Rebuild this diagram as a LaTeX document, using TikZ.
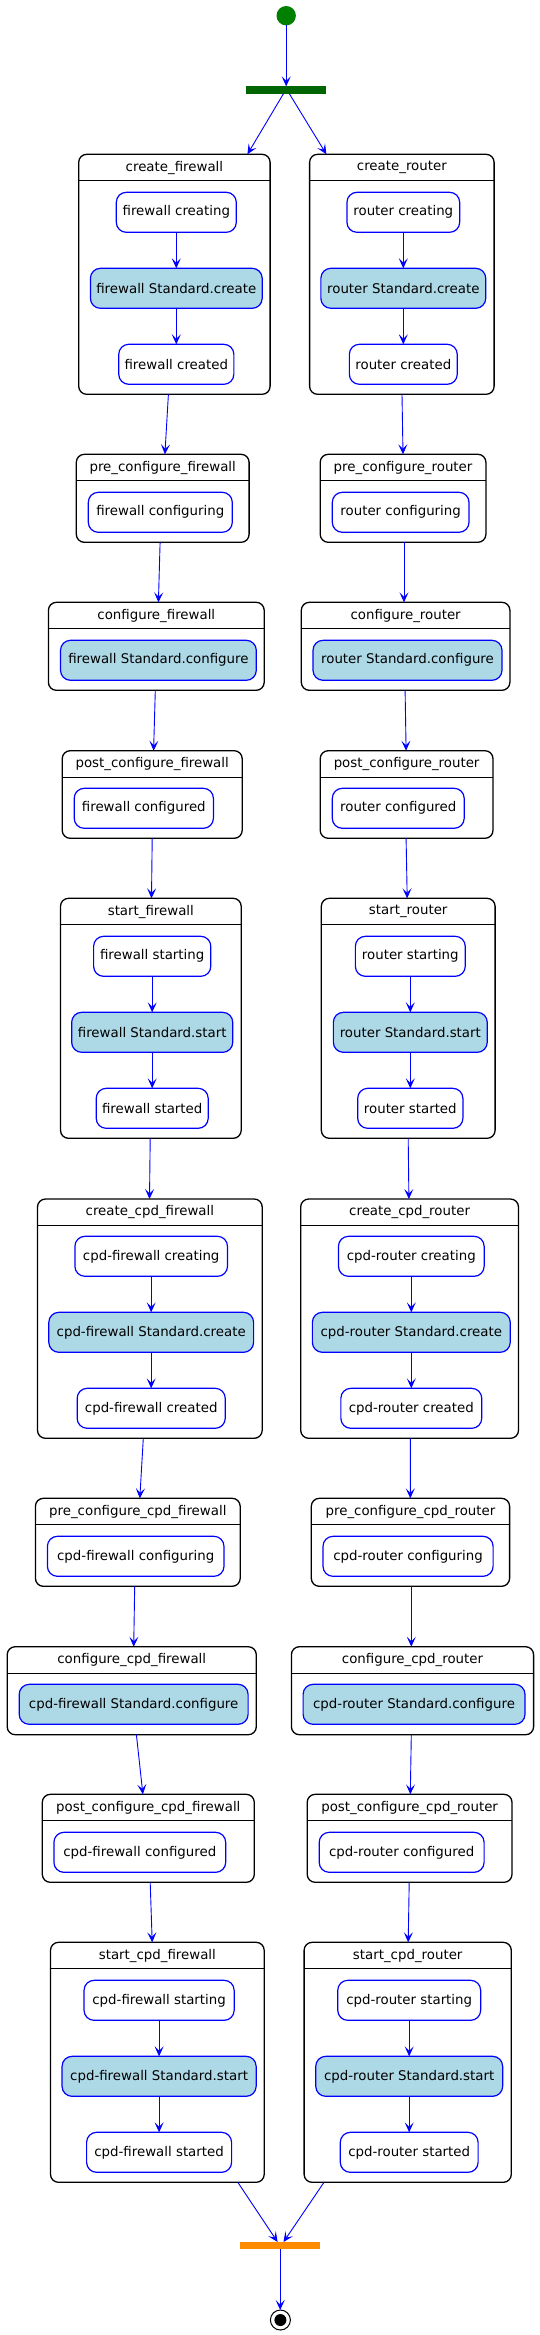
\documentclass[tikz,border=0pt]{standalone}
\usepackage{fontspec}
\setmainfont{DejaVu Sans}
\usetikzlibrary{arrows.meta}
\definecolor{startg}{HTML}{008000}
\definecolor{forkg}{HTML}{006400}
\definecolor{joino}{HTML}{FF8C00}
\definecolor{actfill}{HTML}{ADD8E6}
\tikzset{
  comp/.style={draw=black, line width=1.3pt, rounded corners=8pt, inner sep=0pt, outer sep=0pt, fill=white},
  sepl/.style={draw=black, line width=1pt},
  ttl/.style={inner sep=0pt, text=black, font=\fontsize{13.35}{16}\selectfont},
  act/.style={draw=blue, line width=1.2pt, rounded corners=10pt, inner sep=0pt, outer sep=0pt, minimum height=40pt, text=black, font=\fontsize{13.35}{16}\selectfont},
  actw/.style={fill=white},
  actb/.style={fill=actfill},
  conn/.style={draw=blue, line width=0.9pt, -{Stealth[length=10pt,width=9pt,inset=4.5pt]}},
  bar/.style={inner sep=0pt, outer sep=0pt, minimum width=80pt, minimum height=7.3pt}
}
\newcommand\comp[6]{%
  \node[comp, minimum width={(#4-#2)*1pt}, minimum height={(#5-#3)*1pt}] (#1) at ({(#2+#4)/2},{(#3+#5)/2}) {};
  \draw[sepl] ([yshift=-26.4pt]#1.north west) -- ([yshift=-26.4pt]#1.north east);
  \node[ttl] (#1-t) at ([yshift=-13.2pt]#1.north) {#6};
}
\newcommand\act[6]{%
  \node[act,#2, minimum width=#5pt] (#1) at (#3,{#4+20}) {#6};
}
\newcommand\cn[4]{\draw[conn] ([xshift=#2pt]#1.south) -- ([xshift=#4pt]#3.north);}
\newcommand\icn[2]{\draw[conn] (#1.south) -- (#1.south |- #2.north);}
\begin{document}
\begin{tikzpicture}[x=1pt,y=-1pt]
\useasboundingbox (0,0) rectangle (539,2335);
\fill[white] (0,0) rectangle (539,2335);

% start and fork
\node[circle, fill=startg, minimum size=19.4pt, inner sep=0pt, outer sep=0pt] (start) at (286.2,15.7) {};
\node[bar, fill=forkg] (fork) at (286.45,90) {};
\draw[conn] (start.south) -- (start.south |- fork.north);

% ---------- left column ----------
\comp{cf}{78.7}{154.3}{270.1}{394.3}{create\_firewall}
\act{cf1}{actw}{176.3}{192.3}{120}{firewall creating}
\act{cf2}{actb}{176.3}{268.3}{171.8}{firewall Standard.create}
\act{cf3}{actw}{176.3}{344.3}{115.1}{firewall created}
\icn{cf1}{cf2}\icn{cf2}{cf3}

\comp{pf}{76.3}{454.3}{249.1}{542.3}{pre\_configure\_firewall}
\act{pf1}{actw}{160.3}{492.3}{144}{firewall configuring}

\comp{kf}{48.4}{602.3}{264.2}{690.3}{configure\_firewall}
\act{kf1}{actb}{158.4}{640.3}{195.8}{firewall Standard.configure}

\comp{qf}{62.2}{750.7}{242.2}{838.3}{post\_configure\_firewall}
\act{qf1}{actw}{143.8}{788.3}{139.2}{firewall configured}

\comp{sf}{60.5}{898.3}{241.2}{1138.3}{start\_firewall}
\act{sf1}{actw}{152.2}{936.3}{117.2}{firewall starting}
\act{sf2}{actb}{152.2}{1012.3}{161.1}{firewall Standard.start}
\act{sf3}{actw}{152.2}{1088.3}{112}{firewall started}
\icn{sf1}{sf2}\icn{sf2}{sf3}

\comp{ccf}{37.5}{1199}{262.2}{1438.3}{create\_cpd\_firewall}
\act{ccf1}{actw}{151.2}{1236.3}{152.6}{cpd-firewall creating}
\act{ccf2}{actb}{151.2}{1312.3}{204.8}{cpd-firewall Standard.create}
\act{ccf3}{actw}{151.2}{1388.3}{148.1}{cpd-firewall created}
\icn{ccf1}{ccf2}\icn{ccf2}{ccf3}

\comp{pcf}{35.4}{1498.3}{240.2}{1586.3}{pre\_configure\_cpd\_firewall}
\act{pcf1}{actw}{135.7}{1536.3}{176.6}{cpd-firewall configuring}

\comp{kcf}{7.2}{1646.7}{256.3}{1734.7}{configure\_cpd\_firewall}
\act{kcf1}{actb}{133.65}{1684.3}{228.9}{cpd-firewall Standard.configure}

\comp{qcf}{42.3}{1794.3}{254.3}{1882.3}{post\_configure\_cpd\_firewall}
\act{qcf1}{actw}{139.8}{1832.3}{171.8}{cpd-firewall configured}

\comp{scf}{50.5}{1942.3}{264.2}{2182.3}{start\_cpd\_firewall}
\act{scf1}{actw}{159.1}{1980.3}{150.1}{cpd-firewall starting}
\act{scf2}{actb}{159.1}{2056.3}{194.1}{cpd-firewall Standard.start}
\act{scf3}{actw}{159.1}{2132.3}{145}{cpd-firewall started}
\icn{scf1}{scf2}\icn{scf2}{scf3}

% ---------- right column ----------
\comp{cr}{309.6}{154.3}{494.1}{394.3}{create\_router}
\act{cr1}{actw}{403.3}{192.3}{112.7}{router creating}
\act{cr2}{actb}{403.3}{268.3}{164.9}{router Standard.create}
\act{cr3}{actw}{403.3}{344.3}{107.9}{router created}
\icn{cr1}{cr2}\icn{cr2}{cr3}

\comp{pr}{320.2}{454.3}{485.9}{542.3}{pre\_configure\_router}
\act{pr1}{actw}{400.65}{492.3}{136.7}{router configuring}

\comp{kr}{301.3}{602.3}{509.9}{690.3}{configure\_router}
\act{kr1}{actb}{407.5}{640.3}{189}{router Standard.configure}

\comp{qr}{320.2}{750.7}{493}{838.3}{post\_configure\_router}
\act{qr1}{actw}{398.25}{788.3}{131.9}{router configured}

\comp{sr}{321.3}{898.3}{495.1}{1138.3}{start\_router}
\act{sr1}{actw}{410.3}{936.3}{109.9}{router starting}
\act{sr2}{actb}{410.3}{1012.3}{153.9}{router Standard.start}
\act{sr3}{actw}{410.3}{1088.3}{105.2}{router started}
\icn{sr1}{sr2}\icn{sr2}{sr3}

\comp{ccr}{300.7}{1199}{518.5}{1438.3}{create\_cpd\_router}
\act{ccr1}{actw}{411.3}{1236.3}{145.7}{cpd-router creating}
\act{ccr2}{actb}{411.3}{1312.3}{197.9}{cpd-router Standard.create}
\act{ccr3}{actw}{411.3}{1388.3}{140.9}{cpd-router created}
\icn{ccr1}{ccr2}\icn{ccr2}{ccr3}

\comp{pcr}{311.3}{1498.3}{509.6}{1586.3}{pre\_configure\_cpd\_router}
\act{pcr1}{actw}{408.05}{1536.3}{170.1}{cpd-router configuring}

\comp{kcr}{291.4}{1646.7}{533.6}{1734.7}{configure\_cpd\_router}
\act{kcr1}{actb}{414.05}{1684.3}{221.9}{cpd-router Standard.configure}

\comp{qcr}{307.2}{1794.3}{512}{1882.3}{post\_configure\_cpd\_router}
\act{qcr1}{actw}{401.65}{1832.3}{164.9}{cpd-router configured}

\comp{scr}{304.1}{1942.3}{511.3}{2182.3}{start\_cpd\_router}
\act{scr1}{actw}{409.2}{1980.3}{142.9}{cpd-router starting}
\act{scr2}{actb}{409.2}{2056.3}{186.9}{cpd-router Standard.start}
\act{scr3}{actw}{409.2}{2132.3}{137.8}{cpd-router started}
\icn{scr1}{scr2}\icn{scr2}{scr3}

% fork connectors
\draw[conn] ([xshift=-2.95pt]fork.south) -- ([xshift=73pt]cf.north);
\draw[conn] ([xshift=2.85pt]fork.south) -- ([xshift=-75.45pt]cr.north);

% left chain
\cn{cf}{-6.0}{pf}{2.2}
\cn{pf}{-2.6}{kf}{2.1}
\cn{kf}{-1.0}{qf}{1.4}
\cn{qf}{0}{sf}{0.65}
\cn{sf}{-0.65}{ccf}{-0.35}
\cn{ccf}{-6.55}{pcf}{2.0}
\cn{pcf}{-3.1}{kcf}{1.95}
\cn{kcf}{4.65}{qcf}{-5.4}
\cn{qcf}{1.9}{scf}{-5.15}

% right chain
\cn{cr}{0.15}{pr}{-0.05}
\cn{pr}{0.95}{kr}{-1.6}
\cn{kr}{-0.5}{qr}{-0.5}
\cn{qr}{-0.5}{sr}{-1.0}
\cn{sr}{0}{ccr}{-0.7}
\cn{ccr}{0.7}{pcr}{-0.15}
\cn{pcr}{0.85}{kcr}{-1.2}
\cn{kcr}{-1.2}{qcr}{0.7}
\cn{qcr}{-0.4}{scr}{0.5}

% join and end
\node[bar, fill=joino] (join) at (280.2,2245.65) {};
\cn{scf}{80.45}{join}{-2.6}
\cn{scr}{-83.7}{join}{3.3}
\node[circle, draw=black, line width=1pt, fill=white, minimum size=20pt, inner sep=0pt, outer sep=0pt] (end) at (280.4,2320) {};
\fill[black] (end.center) circle (6pt);
\draw[conn] (join.south) -- (join.south |- end.north);
\end{tikzpicture}
\end{document}
